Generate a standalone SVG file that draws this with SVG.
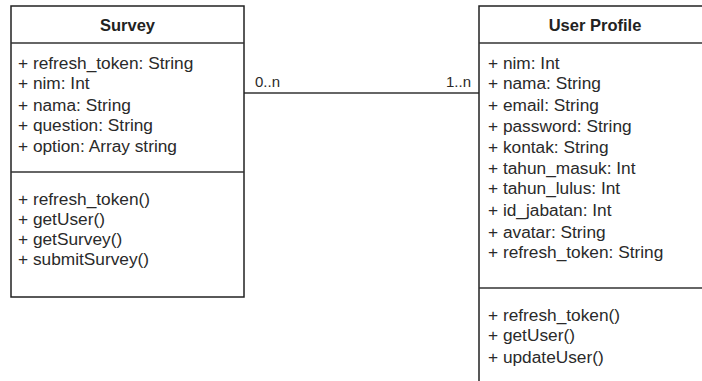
<svg xmlns="http://www.w3.org/2000/svg" width="702" height="381" viewBox="0 0 702 381">
<style>
.box{fill:#fff;stroke:#222;stroke-width:1.5}
.ln{stroke:#333;stroke-width:1.5;fill:none}
.t{font-family:"Liberation Sans",Arial,sans-serif;font-size:17.3px;fill:#2a2a2a}
.h{font-family:"Liberation Sans",Arial,sans-serif;font-size:16.5px;font-weight:bold;fill:#222;text-anchor:middle}
.lb{font-family:"Liberation Sans",Arial,sans-serif;font-size:15px;fill:#2a2a2a}
</style>
<rect width="702" height="381" fill="#fff"/>
<g id="connectors">
<line class="ln" x1="244" y1="93" x2="479" y2="93"/>
<text class="lb" x="255" y="87">0..n</text>
<text class="lb" x="471" y="87" text-anchor="end">1..n</text>
</g>
<g id="survey">
<rect class="box" x="11" y="6" width="233" height="291"/>
<line class="ln" x1="11" y1="43" x2="244" y2="43"/>
<line class="ln" x1="11" y1="172" x2="244" y2="172"/>
<text class="h" x="127.5" y="31">Survey</text>
<text class="t" x="18" y="69">+ refresh_token: String</text>
<text class="t" x="18" y="89">+ nim: Int</text>
<text class="t" x="18" y="111">+ nama: String</text>
<text class="t" x="18" y="131">+ question: String</text>
<text class="t" x="18" y="152">+ option: Array string</text>
<text class="t" x="18" y="205">+ refresh_token()</text>
<text class="t" x="18" y="225">+ getUser()</text>
<text class="t" x="18" y="245">+ getSurvey()</text>
<text class="t" x="18" y="265">+ submitSurvey()</text>
</g>
<g id="user-profile">
<rect class="box" x="479" y="6" width="233" height="400"/>
<line class="ln" x1="479" y1="43" x2="712" y2="43"/>
<line class="ln" x1="479" y1="288" x2="712" y2="288"/>
<text class="h" x="595" y="31">User Profile</text>
<text class="t" x="488" y="69">+ nim: Int</text>
<text class="t" x="488" y="89">+ nama: String</text>
<text class="t" x="488" y="111">+ email: String</text>
<text class="t" x="488" y="132">+ password: String</text>
<text class="t" x="488" y="153">+ kontak: String</text>
<text class="t" x="488" y="174">+ tahun_masuk: Int</text>
<text class="t" x="488" y="194">+ tahun_lulus: Int</text>
<text class="t" x="488" y="216">+ id_jabatan: Int</text>
<text class="t" x="488" y="238">+ avatar: String</text>
<text class="t" x="488" y="258">+ refresh_token: String</text>
<text class="t" x="488" y="321">+ refresh_token()</text>
<text class="t" x="488" y="341">+ getUser()</text>
<text class="t" x="488" y="363">+ updateUser()</text>
</g>
</svg>
